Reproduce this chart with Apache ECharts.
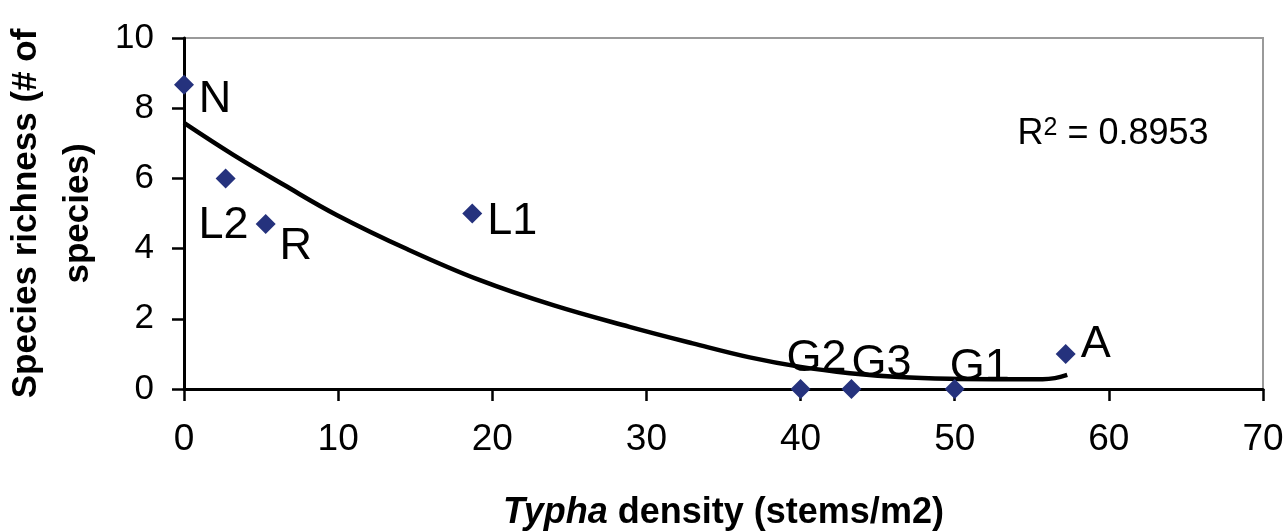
<!DOCTYPE html>
<html>
<head>
<meta charset="utf-8">
<style>
  html, body { margin: 0; padding: 0; background: #ffffff; }
  #chart { width: 1287px; height: 532px; }
</style>
<script src="https://cdn.jsdelivr.net/npm/echarts@6/dist/echarts.min.js"></script>
</head>
<body>
<div id="chart"></div>
<script>
// ---- data ----
const siteNames = ['N', 'L2', 'R', 'L1', 'G2', 'G3', 'G1', 'A'];
const typhaDensity = [0, 2.7, 5.3, 18.7, 40.0, 43.3, 50.0, 57.2];
const speciesRichness = [8.67, 6, 4.7, 5, 0, 0, 0, 1];

// trendline (polynomial fit as drawn in the picture)
const trendX = [0, 3.2, 6.5, 9.9, 14.5, 19.2, 24, 28.9, 33, 36.7, 40, 43.2, 46.4, 49.7, 52.5, 55.7, 56.5, 57.3];
const trendY = [7.58, 6.67, 5.81, 4.96, 3.98, 3.10, 2.38, 1.77, 1.30, 0.90, 0.63, 0.45, 0.34, 0.29, 0.28, 0.28, 0.31, 0.40];

const xTicks = { min: 0, max: 70, interval: 10 };
const yTicks = { min: 0, max: 10, interval: 2 };
const rSquaredText = '0.8953';

// ---- label placement (pixel offsets of each label centre from its marker) ----
const labelOffsets = {
  N: [31, 15], L2: [-2, 47], R: [30, 23], L1: [40, 8],
  G2: [16, -30], G3: [30, -25], G1: [25, -21], A: [30, -9]
};

const FONT = '"Liberation Sans", Arial, Helvetica, sans-serif';

const scatterData = siteNames.map((n, i) => ({
  name: n,
  value: [typhaDensity[i], speciesRichness[i]],
  label: { offset: labelOffsets[n] }
}));
const trendData = trendX.map((x, i) => [x, trendY[i]]);

const chart = echarts.init(document.getElementById('chart'), null, { renderer: 'canvas' });
chart.setOption({
  animation: false,
  backgroundColor: '#ffffff',
  grid: {
    left: 184, right: 24, top: 38, bottom: 143,
    containLabel: false,
    outerBoundsMode: 'none',
    show: true, borderColor: '#9a9a9a', borderWidth: 2, backgroundColor: '#ffffff'
  },
  xAxis: {
    type: 'value',
    min: xTicks.min, max: xTicks.max, interval: xTicks.interval,
    name: '{i|Typha} density (stems/m2)',
    nameLocation: 'middle',
    nameGap: 106,
    nameTextStyle: {
      fontFamily: FONT, fontSize: 36, fontWeight: 'bold', color: '#000',
      rich: { i: { fontFamily: FONT, fontSize: 36, fontWeight: 'bold', fontStyle: 'italic', color: '#000' } }
    },
    axisLine: { show: true, onZero: false, lineStyle: { color: '#000', width: 3 } },
    axisTick: { show: true, inside: false, length: 12, lineStyle: { color: '#000', width: 2.5 } },
    axisLabel: { fontFamily: FONT, fontSize: 37, color: '#000', margin: 32 },
    splitLine: { show: false }
  },
  yAxis: {
    type: 'value',
    min: yTicks.min, max: yTicks.max, interval: yTicks.interval,
    name: 'Species richness (# of\nspecies)',
    nameLocation: 'middle',
    nameRotate: 90,
    nameGap: 78,
    nameTextStyle: { fontFamily: FONT, fontSize: 35, fontWeight: 'bold', color: '#000', lineHeight: 52 },
    axisLine: { show: true, onZero: false, lineStyle: { color: '#000', width: 3 } },
    axisTick: { show: true, inside: false, length: 12, lineStyle: { color: '#000', width: 2.5 } },
    axisLabel: { fontFamily: FONT, fontSize: 35, color: '#000', margin: 30 },
    splitLine: { show: false }
  },
  graphic: [{
    type: 'text',
    x: 1113, y: 134,
    z: 100,
    style: {
      text: 'R{s|2} = ' + rSquaredText,
      font: '36px ' + FONT,
      fill: '#000',
      align: 'center',
      verticalAlign: 'middle',
      rich: { s: { fontSize: 25, fontFamily: FONT, verticalAlign: 'top', fill: '#000' } }
    }
  }],
  series: [
    {
      type: 'line',
      data: trendData,
      smooth: 0.4,
      showSymbol: false,
      symbol: 'none',
      lineStyle: { color: '#000', width: 4.5 },
      z: 3
    },
    {
      type: 'scatter',
      data: scatterData,
      symbol: 'diamond',
      symbolSize: 20,
      clip: false,
      itemStyle: { color: '#25327D', opacity: 1 },
      label: {
        show: true,
        position: 'inside',
        formatter: '{b}',
        fontFamily: FONT,
        fontSize: 45,
        color: '#000',
        opacity: 1,
        textBorderWidth: 0
      },
      z: 4
    }
  ]
});
</script>
</body>
</html>
